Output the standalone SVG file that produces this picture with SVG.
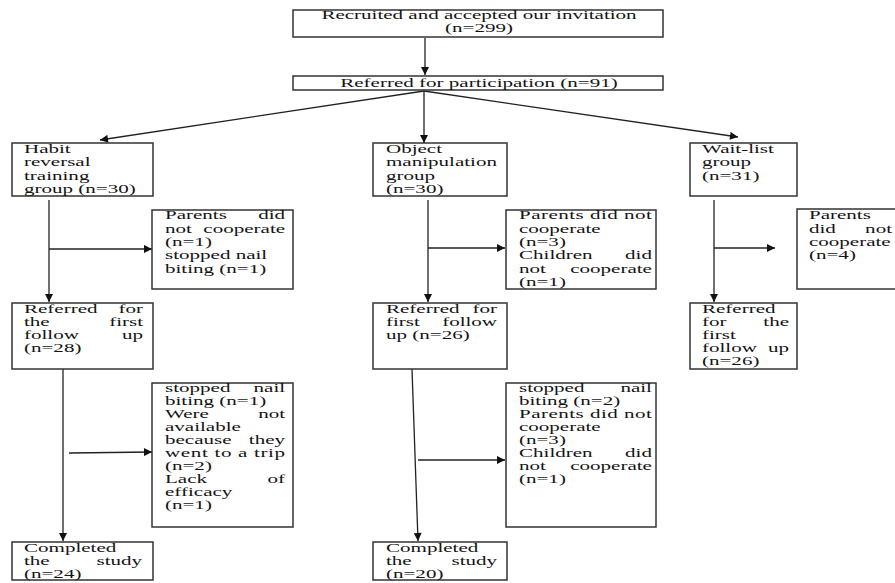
<svg xmlns="http://www.w3.org/2000/svg" width="895" height="583" viewBox="0 0 895 583">
<style>
.box{fill:#fff;stroke:#333;stroke-width:1.5}
.t{font-family:'Liberation Serif','Times New Roman',serif;font-size:12.6px;fill:#141414}
.e{text-anchor:end}
.m{text-anchor:middle}
.c{stroke:#222;stroke-width:1.3;fill:none}
</style>
<defs>
<marker id="ah" viewBox="0 0 10 10" refX="10" refY="5" markerWidth="9" markerHeight="8" markerUnits="userSpaceOnUse" orient="auto">
<path d="M0,0 L10,5 L0,10 z" fill="#111"/>
</marker>
</defs>
<rect width="895" height="583" fill="#fff"/>

<g id="connectors">
<line class="c" x1="425" y1="38" x2="425" y2="75" marker-end="url(#ah)"/>
<line class="c" x1="424" y1="91" x2="100" y2="140" marker-end="url(#ah)"/>
<line class="c" x1="424" y1="91" x2="738" y2="137" marker-end="url(#ah)"/>
<line class="c" x1="424" y1="91" x2="424" y2="143" marker-end="url(#ah)"/>
<line class="c" x1="49" y1="200" x2="49" y2="302" marker-end="url(#ah)"/>
<line class="c" x1="49" y1="249" x2="152" y2="249" marker-end="url(#ah)"/>
<line class="c" x1="63" y1="369" x2="63" y2="541" marker-end="url(#ah)"/>
<line class="c" x1="69" y1="453" x2="152" y2="452" marker-end="url(#ah)"/>
<line class="c" x1="428" y1="200" x2="428" y2="302" marker-end="url(#ah)"/>
<line class="c" x1="428" y1="248" x2="505" y2="248" marker-end="url(#ah)"/>
<line class="c" x1="412" y1="369" x2="418" y2="541" marker-end="url(#ah)"/>
<line class="c" x1="418" y1="460" x2="505" y2="460" marker-end="url(#ah)"/>
<line class="c" x1="714" y1="200" x2="714" y2="302" marker-end="url(#ah)"/>
<line class="c" x1="714" y1="248" x2="775" y2="248" marker-end="url(#ah)"/>
</g>

<g id="recruited">
<rect class="box" x="293" y="10" width="370" height="27"/>
<g class="t" font-family="Liberation Serif, serif" transform="translate(479,0) scale(1.67,1)">
<text class="m" x="0" y="19.5">Recruited and accepted our invitation</text>
<text class="m" x="0" y="32.5">(n=299)</text>
</g>
</g>

<g id="referred">
<rect class="box" x="293" y="76" width="370" height="14"/>
<g class="t" font-family="Liberation Serif, serif" transform="translate(479,0) scale(1.67,1)">
<text class="m" x="0" y="87.5">Referred for participation (n=91)</text>
</g>
</g>

<g id="habit">
<rect class="box" x="12" y="143" width="141" height="53"/>
<g class="t" font-family="Liberation Serif, serif" transform="translate(24,0) scale(1.67,1)">
<text x="0" y="153">Habit</text>
<text x="0" y="166.3">reversal</text>
<text x="0" y="179.6">training</text>
<text x="0" y="193">group (n=30)</text>
</g>
</g>

<g id="habit-excl1">
<rect class="box" x="152" y="210" width="141" height="79"/>
<g class="t" font-family="Liberation Serif, serif" transform="translate(165,0) scale(1.67,1)">
<text x="0" y="219.5">Parents</text><text class="e" x="71.9" y="219.5">did</text>
<text x="0" y="232.8">not</text><text class="e" x="71.9" y="232.8">cooperate</text>
<text x="0" y="246.1">(n=1)</text>
<text x="0" y="259.4">stopped nail</text>
<text x="0" y="272.7">biting (n=1)</text>
</g>
</g>

<g id="habit-followup">
<rect class="box" x="12" y="303" width="141" height="66"/>
<g class="t" font-family="Liberation Serif, serif" transform="translate(24,0) scale(1.67,1)">
<text x="0" y="313">Referred</text><text class="e" x="71.3" y="313">for</text>
<text x="0" y="326">the</text><text class="e" x="71.3" y="326">first</text>
<text x="0" y="339">follow</text><text class="e" x="71.3" y="339">up</text>
<text x="0" y="352">(n=28)</text>
</g>
</g>

<g id="habit-excl2">
<rect class="box" x="152" y="383" width="141" height="144"/>
<g class="t" font-family="Liberation Serif, serif" transform="translate(165,0) scale(1.67,1)">
<text x="0" y="392.5">stopped</text><text class="e" x="71.9" y="392.5">nail</text>
<text x="0" y="405.5">biting (n=1)</text>
<text x="0" y="418.5">Were</text><text class="e" x="71.9" y="418.5">not</text>
<text x="0" y="431.5">available</text>
<text x="0" y="444.5">because</text><text class="e" x="71.9" y="444.5">they</text>
<text x="0" y="457.5" textLength="71.9" lengthAdjust="spacing">went to a trip</text>
<text x="0" y="470.5">(n=2)</text>
<text x="0" y="483.5">Lack</text><text class="e" x="71.9" y="483.5">of</text>
<text x="0" y="496.5">efficacy</text>
<text x="0" y="509.5">(n=1)</text>
</g>
</g>

<g id="habit-completed">
<rect class="box" x="12" y="542" width="141" height="38"/>
<g class="t" font-family="Liberation Serif, serif" transform="translate(24,0) scale(1.67,1)">
<text x="0" y="551.7">Completed</text>
<text x="0" y="564.7">the</text><text class="e" x="70.7" y="564.7">study</text>
<text x="0" y="577.7">(n=24)</text>
</g>
</g>

<g id="object">
<rect class="box" x="373" y="143" width="134" height="53"/>
<g class="t" font-family="Liberation Serif, serif" transform="translate(386,0) scale(1.67,1)">
<text x="0" y="153">Object</text>
<text x="0" y="166.3">manipulation</text>
<text x="0" y="179.6">group</text>
<text x="0" y="193">(n=30)</text>
</g>
</g>

<g id="object-excl1">
<rect class="box" x="506" y="210" width="150" height="79"/>
<g class="t" font-family="Liberation Serif, serif" transform="translate(519,0) scale(1.67,1)">
<text x="0" y="219.5" textLength="79.6" lengthAdjust="spacing">Parents did not</text>
<text x="0" y="232.8">cooperate</text>
<text x="0" y="246.1">(n=3)</text>
<text x="0" y="259.4">Children</text><text class="e" x="79.6" y="259.4">did</text>
<text x="0" y="272.7">not</text><text class="e" x="79.6" y="272.7">cooperate</text>
<text x="0" y="286">(n=1)</text>
</g>
</g>

<g id="object-followup">
<rect class="box" x="373" y="303" width="134" height="66"/>
<g class="t" font-family="Liberation Serif, serif" transform="translate(386,0) scale(1.67,1)">
<text x="0" y="313">Referred</text><text class="e" x="66.5" y="313">for</text>
<text x="0" y="326">first</text><text class="e" x="66.5" y="326">follow</text>
<text x="0" y="339">up (n=26)</text>
</g>
</g>

<g id="object-excl2">
<rect class="box" x="506" y="383" width="150" height="144"/>
<g class="t" font-family="Liberation Serif, serif" transform="translate(519,0) scale(1.67,1)">
<text x="0" y="392.5">stopped</text><text class="e" x="79.6" y="392.5">nail</text>
<text x="0" y="405.5">biting (n=2)</text>
<text x="0" y="418.5" textLength="79.6" lengthAdjust="spacing">Parents did not</text>
<text x="0" y="431.5">cooperate</text>
<text x="0" y="444.5">(n=3)</text>
<text x="0" y="457.5">Children</text><text class="e" x="79.6" y="457.5">did</text>
<text x="0" y="470.5">not</text><text class="e" x="79.6" y="470.5">cooperate</text>
<text x="0" y="483.5">(n=1)</text>
</g>
</g>

<g id="object-completed">
<rect class="box" x="373" y="542" width="134" height="38"/>
<g class="t" font-family="Liberation Serif, serif" transform="translate(386,0) scale(1.67,1)">
<text x="0" y="551.7">Completed</text>
<text x="0" y="564.7">the</text><text class="e" x="66.5" y="564.7">study</text>
<text x="0" y="577.7">(n=20)</text>
</g>
</g>

<g id="waitlist">
<rect class="box" x="690" y="143" width="107" height="53"/>
<g class="t" font-family="Liberation Serif, serif" transform="translate(702,0) scale(1.67,1)">
<text x="0" y="153">Wait-list</text>
<text x="0" y="166.3">group</text>
<text x="0" y="179.6">(n=31)</text>
</g>
</g>

<g id="waitlist-excl">
<rect class="box" x="797" y="209" width="110" height="80"/>
<g class="t" font-family="Liberation Serif, serif" transform="translate(809,0) scale(1.67,1)">
<text x="0" y="219.3">Parents</text>
<text x="0" y="232.6">did</text><text class="e" x="49.7" y="232.6">not</text>
<text x="0" y="245.9">cooperate</text>
<text x="0" y="259.2">(n=4)</text>
</g>
</g>

<g id="waitlist-followup">
<rect class="box" x="690" y="303" width="107" height="66"/>
<g class="t" font-family="Liberation Serif, serif" transform="translate(702,0) scale(1.67,1)">
<text x="0" y="313">Referred</text>
<text x="0" y="326">for</text><text class="e" x="52.1" y="326">the</text>
<text x="0" y="339">first</text>
<text x="0" y="352">follow</text><text class="e" x="52.1" y="352">up</text>
<text x="0" y="365">(n=26)</text>
</g>
</g>
</svg>
